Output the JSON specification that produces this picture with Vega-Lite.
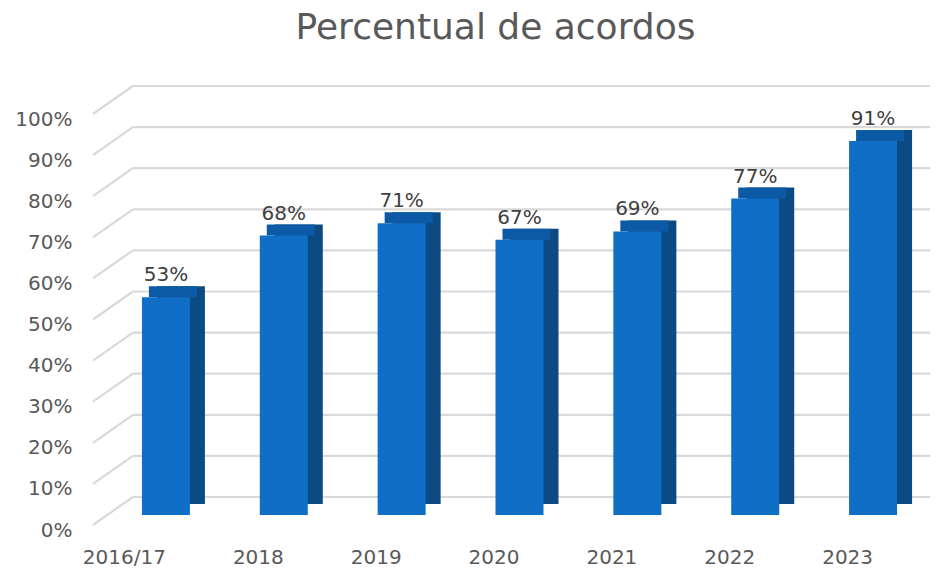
{
  "$schema": "https://vega.github.io/schema/vega-lite/v6.json",
  "width": 825,
  "height": 411,
  "autosize": {"type": "none"},
  "padding": {"left": 107, "top": 104, "right": 11, "bottom": 56},
  "background": "white",
  "view": {"stroke": null},
  "config": {"font": "DejaVu Sans"},
  "title": {
    "text": "Percentual de acordos",
    "fontSize": 36,
    "fontWeight": "normal",
    "color": "#595959",
    "anchor": "middle",
    "frame": "group",
    "dx": -24,
    "offset": 38,
    "font": "DejaVu Sans"
  },
  "datasets": {
    "bars": [
      {"ano": "2016/17", "valor": 0.53},
      {"ano": "2018", "valor": 0.68},
      {"ano": "2019", "valor": 0.71},
      {"ano": "2020", "valor": 0.67},
      {"ano": "2021", "valor": 0.69},
      {"ano": "2022", "valor": 0.77},
      {"ano": "2023", "valor": 0.91}
    ],
    "ticks": [
      {"v": 0}, {"v": 0.1}, {"v": 0.2}, {"v": 0.3}, {"v": 0.4}, {"v": 0.5},
      {"v": 0.6}, {"v": 0.7}, {"v": 0.8}, {"v": 0.9}, {"v": 1.0}
    ]
  },
  "layer": [
    {
      "data": {"name": "ticks"},
      "mark": {"type": "rule", "color": "#D9D9D9", "strokeWidth": 2.2, "xOffset": -33, "x2Offset": 57, "yOffset": -18},
      "encoding": {
        "x": {"datum": "2016/17", "type": "nominal"},
        "x2": {"datum": "2023"},
        "y": {"field": "v", "type": "quantitative"}
      }
    },
    {
      "data": {"name": "ticks"},
      "mark": {"type": "rule", "color": "#D9D9D9", "strokeWidth": 2.2, "xOffset": -73, "x2Offset": -33, "yOffset": 10, "y2Offset": -18},
      "encoding": {
        "x": {"datum": "2016/17", "type": "nominal"},
        "x2": {"datum": "2016/17"},
        "y": {"field": "v", "type": "quantitative"},
        "y2": {"field": "v"}
      }
    },
    {
      "data": {"name": "bars"},
      "mark": {"type": "bar", "size": 48, "color": "#0B4A82", "xOffset": 15, "yOffset": -11, "y2Offset": -11},
      "encoding": {
        "x": {"field": "ano", "type": "nominal"},
        "y": {"field": "valor", "type": "quantitative"}
      }
    },
    {
      "data": {"name": "bars"},
      "mark": {"type": "bar", "size": 48, "color": "#0C5AA6", "xOffset": 7, "yOffset": -11, "y2Offset": 0},
      "encoding": {
        "x": {"field": "ano", "type": "nominal"},
        "y": {"field": "valor", "type": "quantitative"},
        "y2": {"field": "valor"}
      }
    },
    {
      "data": {"name": "bars"},
      "mark": {"type": "bar", "size": 48, "color": "#0F6FC6"},
      "encoding": {
        "x": {
          "field": "ano",
          "type": "nominal",
          "sort": null,
          "scale": {"paddingInner": 0, "paddingOuter": 0},
          "axis": {
            "title": null,
            "domain": false,
            "ticks": false,
            "labelAngle": 0,
            "labelFontSize": 20,
            "labelColor": "#595959",
            "labelPadding": 42,
            "labelFont": "DejaVu Sans"
          }
        },
        "y": {
          "field": "valor",
          "type": "quantitative",
          "scale": {"domain": [0, 1], "nice": false},
          "axis": {
            "title": null,
            "domain": false,
            "ticks": false,
            "grid": false,
            "values": [0, 0.1, 0.2, 0.3, 0.4, 0.5, 0.6, 0.7, 0.8, 0.9, 1],
            "format": ".0%",
            "labelFontSize": 20,
            "labelColor": "#595959",
            "labelPadding": 35,
            "labelOffset": 15,
            "labelFont": "DejaVu Sans"
          }
        }
      }
    },
    {
      "data": {"name": "bars"},
      "mark": {"type": "text", "fontSize": 20, "color": "#404040", "baseline": "middle", "dy": -22, "font": "DejaVu Sans"},
      "encoding": {
        "x": {"field": "ano", "type": "nominal"},
        "y": {"field": "valor", "type": "quantitative"},
        "text": {"field": "valor", "type": "quantitative", "format": ".0%"}
      }
    }
  ]
}
